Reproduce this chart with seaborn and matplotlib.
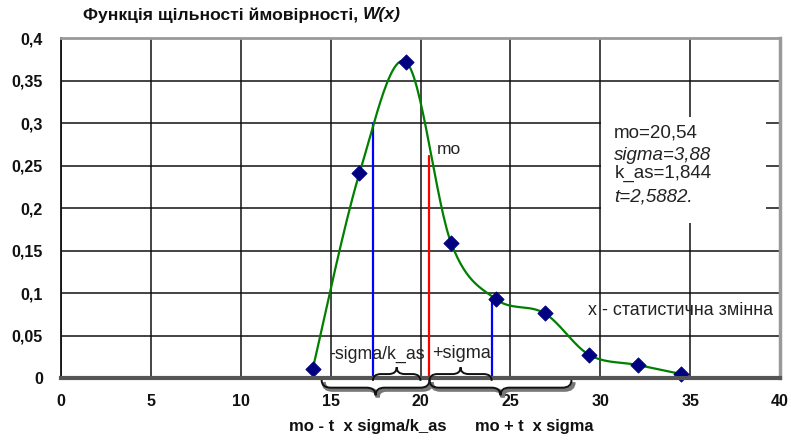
import numpy as np
import pandas as pd
import matplotlib
matplotlib.use("Agg")
import matplotlib.pyplot as plt
import seaborn as sns
from matplotlib.path import Path
from matplotlib.patches import PathPatch, Rectangle
import matplotlib.patheffects as pe

# ---- data ----
x_vals = [14.0, 16.6, 19.2, 21.7, 24.2, 26.9, 29.4, 32.1, 34.5]
w_vals = [0.0106, 0.241, 0.372, 0.1595, 0.093, 0.0765, 0.0274, 0.0156, 0.005]

x_ticks = [0, 5, 10, 15, 20, 25, 30, 35, 40]
y_ticks = [0, 0.05, 0.1, 0.15, 0.2, 0.25, 0.3, 0.35, 0.4]
y_tick_labels = ["0", "0,05", "0,1", "0,15", "0,2", "0,25", "0,3", "0,35", "0,4"]

vline_x = [17.35, 20.5, 23.96]
vline_top = [0.300, 0.262, 0.093]
vline_colors = ["#0000ff", "#ff0000", "#0000ff"]

upper_brace_spans = [(17.35, 20.0), (20.5, 23.96)]
lower_brace_spans = [(14.5, 20.5), (20.5, 28.4)]

params_lines = ["mo=20,54", "sigma=3,88", "k_as=1,844", "t=2,5882."]
params_italic = [False, True, False, True]

title_main = "Функція щільності ймовірності, "
title_var = "W(x)"

# ---- smooth curve (Excel-like Catmull-Rom rendering of the points) ----
def smooth_curve(xs, ys, n=30):
    P = np.column_stack([xs, ys])
    P = np.vstack([P[0], P, P[-1]])
    out = []
    for i in range(1, len(P) - 2):
        p0, p1, p2, p3 = P[i - 1], P[i], P[i + 1], P[i + 2]
        c1 = p1 + (p2 - p0) / 6.0
        c2 = p2 - (p3 - p1) / 6.0
        t = np.linspace(0, 1, n)[:, None]
        seg = ((1 - t) ** 3) * p1 + 3 * ((1 - t) ** 2) * t * c1 + 3 * (1 - t) * t ** 2 * c2 + t ** 3 * p2
        out.append(seg if i == 1 else seg[1:])
    return np.vstack(out)

sns.set_theme(style="white")
plt.rcParams["font.family"] = ["Liberation Sans", "DejaVu Sans"]

fig = plt.figure(figsize=(7.91, 4.41), dpi=100)
W, H = 791, 441
ax = fig.add_axes([61 / W, 1 - 378.3 / H, (780 - 61) / W, (378.3 - 38.3) / H])

ax.set_xlim(0, 40)
ax.set_ylim(0, 0.4)
ax.set_xticks(x_ticks)
ax.set_xticklabels([str(v) for v in x_ticks])
ax.set_yticks(y_ticks)
ax.set_yticklabels(y_tick_labels)
ax.grid(True, color="#111111", lw=1.1)
ax.set_axisbelow(True)
ax.tick_params(axis="both", direction="out", length=5, width=1.5, color="#111111",
               labelsize=11.5, colors="#111111")
ax.tick_params(axis="y", pad=8)
ax.tick_params(axis="x", pad=6)
for lab in ax.get_xticklabels() + ax.get_yticklabels():
    lab.set_fontweight("bold")

for side, col, lw in [("bottom", "#555555", 3.0), ("top", "#999999", 2.0),
                      ("right", "#999999", 2.5), ("left", "#111111", 1.3)]:
    ax.spines[side].set_visible(True)
    ax.spines[side].set_color(col)
    ax.spines[side].set_linewidth(lw)
    ax.spines[side].set_zorder(6)

# white box behind the parameter text
ax.add_patch(Rectangle((30.05, 0.183), 9.15, 0.124, facecolor="white",
                       edgecolor="none", zorder=1.5))

# smooth curve
curve = smooth_curve(np.array(x_vals), np.array(w_vals))
df_curve = pd.DataFrame({"x": curve[:, 0], "w": curve[:, 1]})
sns.lineplot(data=df_curve, x="x", y="w", sort=False, color="#008000", lw=1.6,
             ax=ax, zorder=3, estimator=None)

# vertical lines
for xv, top, c in zip(vline_x, vline_top, vline_colors):
    ax.plot([xv, xv], [0, top], color=c, lw=1.6, zorder=2.5)

# points
df_pts = pd.DataFrame({"x": x_vals, "w": w_vals})
sns.scatterplot(data=df_pts, x="x", y="w", marker="D", s=60, color="#000080",
                edgecolor="#000080", ax=ax, zorder=4, clip_on=False)
ax.set_xlabel("")
ax.set_ylabel("")

# braces
def brace(x0, x1, y0, y1, r, shadow=False):
    xm = (x0 + x1) / 2
    ym = (y0 + y1) / 2
    verts = [(x0, y0), (x0, ym), (x0 + r, ym), (xm - r, ym), (xm, ym), (xm, y1),
             (xm, ym), (xm + r, ym), (x1 - r, ym), (x1, ym), (x1, y0)]
    codes = [Path.MOVETO, Path.CURVE3, Path.CURVE3, Path.LINETO, Path.CURVE3, Path.CURVE3,
             Path.CURVE3, Path.CURVE3, Path.LINETO, Path.CURVE3, Path.CURVE3]
    p = PathPatch(Path(verts, codes), facecolor="none", edgecolor="#111111", lw=1.4,
                  zorder=7, clip_on=False)
    if shadow:
        p.set_path_effects([pe.SimpleLineShadow(offset=(1.5, -1.5), shadow_color="#777777",
                                                alpha=1.0, linewidth=3), pe.Normal()])
    ax.add_patch(p)

for a, b in upper_brace_spans:
    brace(a, b, -0.003, 0.013, 0.45)
for a, b in lower_brace_spans:
    brace(a, b, -0.002, -0.020, 0.5, shadow=True)

# in-plot texts
ax.text(20.9, 0.269, "mo", fontsize=12.5, va="center", ha="left", color="#222222", zorder=8)
ax.text(14.94, 0.0286, "-sigma/k_as", fontsize=12.8, va="center", ha="left", color="#222222", zorder=8)
ax.text(20.67, 0.0286, "+sigma", fontsize=13, va="center", ha="left", color="#222222", zorder=8)
ax.text(29.3, 0.080, "х - статистична змінна", fontsize=12.9, va="center", ha="left",
        color="#222222", zorder=8)

for txt, it, yy in zip(params_lines, params_italic, [0.2886, 0.2627, 0.241, 0.2136]):
    ax.text(30.78, yy, txt, fontsize=13.5, va="center", ha="left", color="#222222",
            style="italic" if it else "normal", zorder=8)

# title
t1 = fig.text(83 / W, 1 - 15 / H, title_main, fontsize=12.6, fontweight="bold",
              va="center", ha="left", color="#111111")
fig.canvas.draw()
bb = t1.get_window_extent()
fig.text(bb.x1 / W, 1 - 15 / H, title_var, fontsize=12.6, fontweight="bold",
         style="italic", va="center", ha="left", color="#111111")

# bottom labels
fig.text(289 / W, 1 - 427 / H, "mo - t  x sigma/k_as", fontsize=12, fontweight="bold",
         va="center", ha="left", color="#111111")
fig.text(475 / W, 1 - 427 / H, "mo + t  x sigma", fontsize=11.8, fontweight="bold",
         va="center", ha="left", color="#111111")

fig.savefig("out.png", dpi=100)
